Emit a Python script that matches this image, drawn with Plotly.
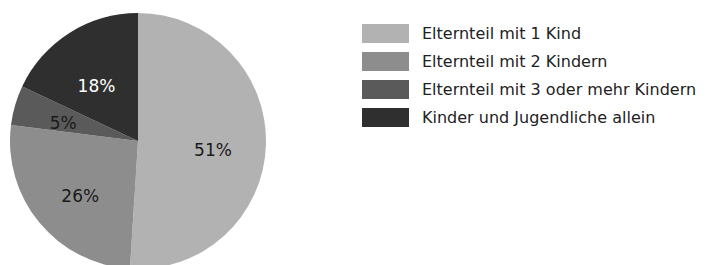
import plotly.graph_objects as go

labels = ["Elternteil mit 1 Kind", "Elternteil mit 2 Kindern",
          "Elternteil mit 3 oder mehr Kindern", "Kinder und Jugendliche allein"]
values = [51, 26, 5, 18]
colors = ["#b2b2b2", "#8d8d8d", "#5a5a5a", "#2f2f2f"]
text_colors = ["#1a1a1a", "#1a1a1a", "#1a1a1a", "#ffffff"]

W, H = 710, 265
OFF = 8  # page body margin
FONT = "DejaVu Sans, sans-serif"


def dom(cx, cy, r):
    """pie domain from a centre/radius given in screen pixels"""
    return dict(x=[(cx - r - OFF) / W, (cx + r - OFF) / W],
                y=[1 - (cy + r - OFF) / H, 1 - (cy - r - OFF) / H])


fig = go.Figure()
fig.add_trace(go.Pie(
    labels=labels, values=values, sort=False, direction="clockwise", rotation=0,
    marker=dict(colors=colors, line=dict(width=0)),
    textinfo="none", showlegend=False, hoverinfo="label+percent",
    domain=dom(138, 141, 128),
))


def label_ring(show, domain):
    """transparent ring overlay that only places the percentage labels"""
    fig.add_trace(go.Pie(
        labels=labels, values=values, sort=False, direction="clockwise", rotation=0,
        hole=0.2,
        marker=dict(colors=["rgba(0,0,0,0)"] * len(values), line=dict(width=0)),
        texttemplate=["%{value}%" if i in show else "" for i in range(len(values))],
        textposition="inside", insidetextorientation="horizontal",
        textfont=dict(family=FONT, size=17, color=text_colors),
        showlegend=False, hoverinfo="skip",
        domain=domain,
    ))


label_ring({0, 1}, dom(138, 148, 125))
label_ring({2}, dom(138, 144.3, 90))
label_ring({3}, dom(138, 151.8, 119))

# custom legend with wide swatches
x0, x1 = (362 - OFF) / W, (409 - OFF) / W
yc0, step = 33.5 - OFF, 28
for i, (lab, col) in enumerate(zip(labels, colors)):
    yc = yc0 + i * step
    fig.add_shape(type="rect", xref="paper", yref="paper",
                  x0=x0, x1=x1, y0=1 - (yc + 9.5) / H, y1=1 - (yc - 9.5) / H,
                  fillcolor=col, line=dict(width=0))
    fig.add_annotation(xref="paper", yref="paper", x=(420 - OFF) / W, y=1 - yc / H,
                       text=lab, showarrow=False, xanchor="left", yanchor="middle",
                       font=dict(family=FONT, size=16, color="#222222"))

fig.update_layout(width=W, height=H, margin=dict(l=0, r=0, t=0, b=0),
                  paper_bgcolor="white", plot_bgcolor="white",
                  uniformtext=dict(minsize=17, mode="show"))
fig.write_html("out.html")
